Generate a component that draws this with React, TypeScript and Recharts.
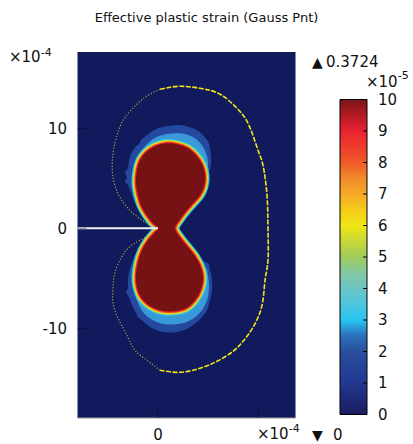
import { ScatterChart, Scatter, XAxis, YAxis, CartesianGrid, BarChart, Bar } from 'recharts';

// axis units are 1e-4 (m); crack tip sits at the origin
const xDomain = [-8.05, 13.75];
const yDomain = [-18.97, 17.63];
const xTicks = [0, 10];
const yTicks = [-10, 0, 10];

// plastic zone, eps >= 10e-5 (both lobes, one closed outline)
const lobeX = [0, -0.6, -1.2, -1.7, -2.0, -2.2, -2.1, -1.8, -1.2, -0.3, 0.8, 1.9, 3.0, 3.8, 4.4, 4.7, 4.6, 4.2, 3.5, 2.8, 2.2, 1.7,
  2.2, 3.0, 3.7, 4.2, 4.5, 4.3, 3.7, 2.8, 1.5, 0.2, -0.9, -1.7, -2.1, -2.2, -2.0, -1.6, -1.0, -0.4];
const lobeY = [0, 0.6, 1.4, 2.3, 3.3, 4.5, 5.8, 6.8, 7.6, 8.2, 8.5, 8.4, 8.0, 7.3, 6.4, 5.3, 4.2, 3.3, 2.5, 1.7, 0.9, 0,
  -0.9, -1.9, -2.8, -3.7, -4.9, -6.1, -7.2, -8.0, -8.3, -8.2, -7.7, -6.9, -5.9, -4.7, -3.4, -2.2, -1.2, -0.5];

// low-level halo (~1e-5) above the upper lobe
const haloUpX = [-0.3, -1.8, -2.4, -2.7, -3.0, -3.3, -3.1, -3.3, -3.0, -2.9, -2.6, -2.2, -1.9, -1.7, -1.1, -0.6, 0, 0.8, 1.6, 2.4, 3.2, 3.9, 4.5, 5.0, 5.2, 5.3, 5.3, 5.1, 4.9, 4.6, 4.2, 2.2];
const haloUpY = [2.8, 2.2, 2.8, 3.6, 4.3, 4.7, 5.1, 5.6, 6.0, 6.8, 7.6, 8.2, 8.4, 8.8, 9.3, 9.7, 10.0, 10.2, 10.3, 10.3, 10.1, 9.8, 9.3, 8.7, 8.0, 7.2, 6.4, 5.6, 4.8, 4.0, 3.2, 2.8];
// ~2.5e-5 contour above the upper lobe
const midUpX = [-0.3, -1.8, -2.2, -2.4, -2.4, -2.2, -1.7, -1.0, -0.2, 0.8, 1.8, 2.8, 3.7, 4.4, 4.8, 5.0, 4.9, 4.6, 4.1, 2.2];
const midUpY = [3.0, 2.8, 3.5, 4.5, 5.7, 6.8, 7.7, 8.5, 9.1, 9.4, 9.5, 9.4, 9.0, 8.3, 7.5, 6.5, 5.3, 4.3, 3.5, 3.0];

// same two levels below the lower lobe
const haloDnX = [-0.3, 2.2, 4.8, 5.2, 5.4, 5.4, 5.2, 4.9, 4.3, 3.6, 2.8, 1.8, 0.8, -0.1, -0.9, -1.6, -2.0, -2.2, -2.6, -2.9, -3.2, -3.0, -3.0, -2.8, -2.5, -2.0];
const haloDnY = [-2.7, -2.7, -3.4, -4.2, -5.2, -6.2, -7.2, -8.2, -9.0, -9.6, -10.1, -10.4, -10.4, -10.2, -9.8, -9.2, -8.9, -8.5, -7.7, -6.9, -6.4, -6.0, -5.0, -4.0, -3.2, -2.4];
const midDnX = [-0.3, 2.2, 4.6, 5.0, 5.1, 4.9, 4.4, 3.7, 2.8, 1.8, 0.7, -0.3, -1.1, -1.7, -2.1, -2.4, -2.4, -2.3, -2.0];
const midDnY = [-3.0, -3.0, -3.8, -4.8, -6.0, -7.2, -8.2, -8.9, -9.4, -9.6, -9.6, -9.3, -8.8, -8.1, -7.2, -6.2, -5.1, -4.0, -3.1];

// elastic/plastic boundary (yellow dashes), bright right part and faint left parts
const edgeX = [0.2, 2.2, 4.2, 5.2, 6.4, 7.9, 9.1, 10.0, 10.5, 10.9, 11.0, 11.0, 10.7, 10.4, 9.5, 8.5, 7.5, 5.9, 4.2, 2.2, 0.2];
const edgeY = [13.9, 14.2, 14.0, 13.8, 13.3, 12.0, 10.3, 7.8, 6.3, 3.3, 0.0, -3.2, -5.2, -7.7, -9.9, -11.3, -12.3, -13.3, -14.0, -14.4, -14.2];
const edgeUpLeftX = [0.2, -1.3, -2.7, -3.6, -4.1, -4.5, -4.5, -3.8, -2.5, -0.8];
const edgeUpLeftY = [13.9, 13.1, 11.8, 10.6, 9.3, 7.5, 5.1, 3.1, 1.5, 0.3];
const edgeDnLeftX = [0.2, -1.1, -2.3, -3.0, -3.9, -4.5, -4.5, -4.3, -3.7, -3.0, -2.0, -0.8];
const edgeDnLeftY = [-14.2, -13.2, -12.2, -10.9, -9.2, -7.5, -5.9, -4.4, -3.0, -2.0, -1.3, -0.7];

// crack faces
const crackX = [-8.05, 0];
const crackY = [0, 0];

// colour legend
const cbTicks = [0, 1, 2, 3, 4, 5, 6, 7, 8, 9, 10];
const cbStops = [0, 0.5, 1, 1.5, 2, 2.5, 3, 3.5, 4, 4.5, 5, 5.5, 6, 6.5, 7, 7.5, 8, 8.5, 9, 9.5, 10];
const cbColors = ['#1b1d62', '#1d2a78', '#223890', '#25449a', '#294f9e', '#2a70ba', '#28c6f2', '#4ec6de', '#6cc4c6', '#84c8a0',
  '#a0cc5c', '#c8d838', '#f0e614', '#f4cc18', '#f6a828', '#f28a2a', '#f05a28', '#ee3c2c', '#ea2230', '#b21a22', '#7a1418'];

const FONT = 'DejaVu Sans, Verdana, sans-serif';
const NAVY = '#111a5c';
const TICK = 'rgba(0,0,0,0.45)';

const zip = (xs: number[], ys: number[]) => xs.map((x, i) => ({ x, y: ys[i] }));

// closed catmull-rom through the scaled points
const closedPath = (pts: { x: number; y: number }[]) => {
  const n = pts.length;
  let d = `M${pts[0].x},${pts[0].y}`;
  for (let i = 0; i < n; i++) {
    const p0 = pts[(i - 1 + n) % n], p1 = pts[i], p2 = pts[(i + 1) % n], p3 = pts[(i + 2) % n];
    d += `C${p1.x + (p2.x - p0.x) / 6},${p1.y + (p2.y - p0.y) / 6} ${p2.x - (p3.x - p1.x) / 6},${p2.y - (p3.y - p1.y) / 6} ${p2.x},${p2.y}`;
  }
  return d + 'Z';
};

const blob = (fill: string) => (p: any) => <path d={closedPath(p.points)} fill={fill} stroke="none" />;

const lobes = (p: any) => {
  const d = closedPath(p.points);
  return (
    <g strokeLinejoin="round">
      <path d={d} fill="none" stroke="#2cc4ef" strokeWidth={9} />
      <path d={d} fill="none" stroke="#8fd06a" strokeWidth={7} />
      <path d={d} fill="none" stroke="#f2e41c" strokeWidth={5.5} />
      <path d={d} fill="none" stroke="#f27a22" strokeWidth={3.8} />
      <path d={d} fill="none" stroke="#e8232b" strokeWidth={2.2} />
      <path d={d} fill="#761214" stroke="none" />
    </g>
  );
};

const noDot = () => <g />;

const leftTick = ({ x, y, payload }: any) => (
  <g>
    <line x1={x} x2={x + 9} y1={y} y2={y} stroke={TICK} />
    <text x={x - 10.5} y={y} dy="0.36em" textAnchor="end" fontSize={15} fontFamily={FONT} fill="#111">{payload.value}</text>
  </g>
);
const rightTick = ({ x, y }: any) => <line x1={x - 9} x2={x} y1={y} y2={y} stroke={TICK} />;
const bottomTick = ({ x, y, payload }: any) => (
  <g>
    <line x1={x} x2={x} y1={y} y2={y - 9} stroke={TICK} />
    {payload.value === 0 && (
      <text x={x} y={y + 22} textAnchor="middle" fontSize={15} fontFamily={FONT} fill="#111">0</text>
    )}
  </g>
);
const topTick = ({ x, y }: any) => <line x1={x} x2={x} y1={y} y2={y + 9} stroke={TICK} />;

const cbRightTick = ({ x, y, payload }: any) => (
  <g>
    <line x1={x - 4} x2={x} y1={y} y2={y} stroke="#000" />
    <text x={x + 11} y={y} dy="0.36em" fontSize={15} fontFamily={FONT} fill="#111">{payload.value}</text>
  </g>
);
const cbLeftTick = ({ x, y }: any) => <line x1={x} x2={x + 4} y1={y} y2={y} stroke="#000" />;

export default function App() {
  return (
    <div style={{ position: 'absolute', left: 0, top: 0, width: 413, height: 444, background: '#fff' }}>
      <ScatterChart width={413} height={444} margin={{ top: 52, right: 117.5, bottom: 0, left: 17.5 }}>
        <CartesianGrid fill={NAVY} fillOpacity={1} horizontal={false} vertical={false} />
        <XAxis dataKey="x" type="number" domain={xDomain} ticks={xTicks} allowDataOverflow height={26}
          tickSize={0} tickMargin={0} tick={bottomTick} axisLine={{ stroke: '#9a9a9a' }} tickLine={false} />
        <XAxis xAxisId="top" orientation="top" type="number" domain={xDomain} ticks={xTicks} allowDataOverflow height={0}
          tickSize={0} tickMargin={0} tick={topTick} axisLine={false} tickLine={false} />
        <YAxis dataKey="y" type="number" domain={yDomain} ticks={yTicks} allowDataOverflow width={60}
          tickSize={0} tickMargin={0} tick={leftTick} axisLine={false} tickLine={false} />
        <YAxis yAxisId="right" orientation="right" type="number" domain={yDomain} ticks={yTicks} allowDataOverflow width={0}
          tickSize={0} tickMargin={0} tick={rightTick} axisLine={{ stroke: '#9a9a9a' }} tickLine={false} />

        <Scatter data={zip(haloUpX, haloUpY)} line={blob('#24499e')} lineType="joint" shape={noDot} isAnimationActive={false} />
        <Scatter data={zip(haloDnX, haloDnY)} line={blob('#24499e')} lineType="joint" shape={noDot} isAnimationActive={false} />
        <Scatter data={zip(midUpX, midUpY)} line={blob('#389ad8')} lineType="joint" shape={noDot} isAnimationActive={false} />
        <Scatter data={zip(midDnX, midDnY)} line={blob('#389ad8')} lineType="joint" shape={noDot} isAnimationActive={false} />
        <Scatter data={zip(lobeX, lobeY)} line={lobes} lineType="joint" shape={noDot} isAnimationActive={false} />

        <Scatter data={zip(edgeX, edgeY)} line={{ stroke: '#f4e41a', strokeWidth: 1.6, strokeDasharray: '5 1.5' }}
          lineJointType="natural" lineType="joint" shape={noDot} isAnimationActive={false} />
        <Scatter data={zip(edgeUpLeftX, edgeUpLeftY)} line={{ stroke: '#a9a23c', strokeWidth: 1.2, strokeDasharray: '1.2 1.8' }}
          lineJointType="natural" lineType="joint" shape={noDot} isAnimationActive={false} />
        <Scatter data={zip(edgeDnLeftX, edgeDnLeftY)} line={{ stroke: '#a9a23c', strokeWidth: 1.2, strokeDasharray: '1.2 1.8' }}
          lineJointType="natural" lineType="joint" shape={noDot} isAnimationActive={false} />
        <Scatter data={zip(crackX, crackY)} line={{ stroke: '#f2f2f2', strokeWidth: 2 }}
          lineType="joint" shape={noDot} isAnimationActive={false} />
      </ScatterChart>

      <div style={{ position: 'absolute', left: 330, top: 80 }}>
        <BarChart width={83} height={350} data={[{ name: 'cb', v: 10 }]} barCategoryGap={0}
          margin={{ top: 19.5, right: 16, bottom: 15.5, left: 10 }}>
          <defs>
            <linearGradient id="cbGrad" x1="0" y1="1" x2="0" y2="0">
              {cbStops.map((s, i) => <stop key={s} offset={s / 10} stopColor={cbColors[i]} />)}
            </linearGradient>
          </defs>
          <XAxis dataKey="name" hide />
          <YAxis yAxisId="r" orientation="right" type="number" domain={[0, 10]} ticks={cbTicks} width={30}
            tickSize={0} tickMargin={0} tick={cbRightTick} axisLine={false} tickLine={false} />
          <YAxis yAxisId="l" orientation="left" type="number" domain={[0, 10]} ticks={cbTicks} width={0}
            tickSize={0} tickMargin={0} tick={cbLeftTick} axisLine={false} tickLine={false} />
          <Bar yAxisId="r" dataKey="v" fill="url(#cbGrad)" stroke="#000" strokeWidth={1} isAnimationActive={false} />
        </BarChart>
      </div>

      <svg width={413} height={444} style={{ position: 'absolute', left: 0, top: 0, pointerEvents: 'none' }}
        fontFamily={FONT} fill="#111">
        <text x={206.5} y={21.5} textAnchor="middle" fontSize={13}>Effective plastic strain (Gauss Pnt)</text>
        <text x={9} y={62} fontSize={15}>×10<tspan fontSize={11} dy={-6}>-4</tspan></text>
        <text x={257} y={439} fontSize={15}>×10<tspan fontSize={11} dy={-7}>-4</tspan></text>
        <text x={366} y={87} fontSize={15}>×10<tspan fontSize={11} dy={-8}>-5</tspan></text>
        <text x={312} y={67} fontSize={14}>▲</text>
        <text x={326} y={67} fontSize={15}>0.3724</text>
        <text x={312} y={440} fontSize={14}>▼</text>
        <text x={333} y={440} fontSize={15}>0</text>
      </svg>
    </div>
  );
}
